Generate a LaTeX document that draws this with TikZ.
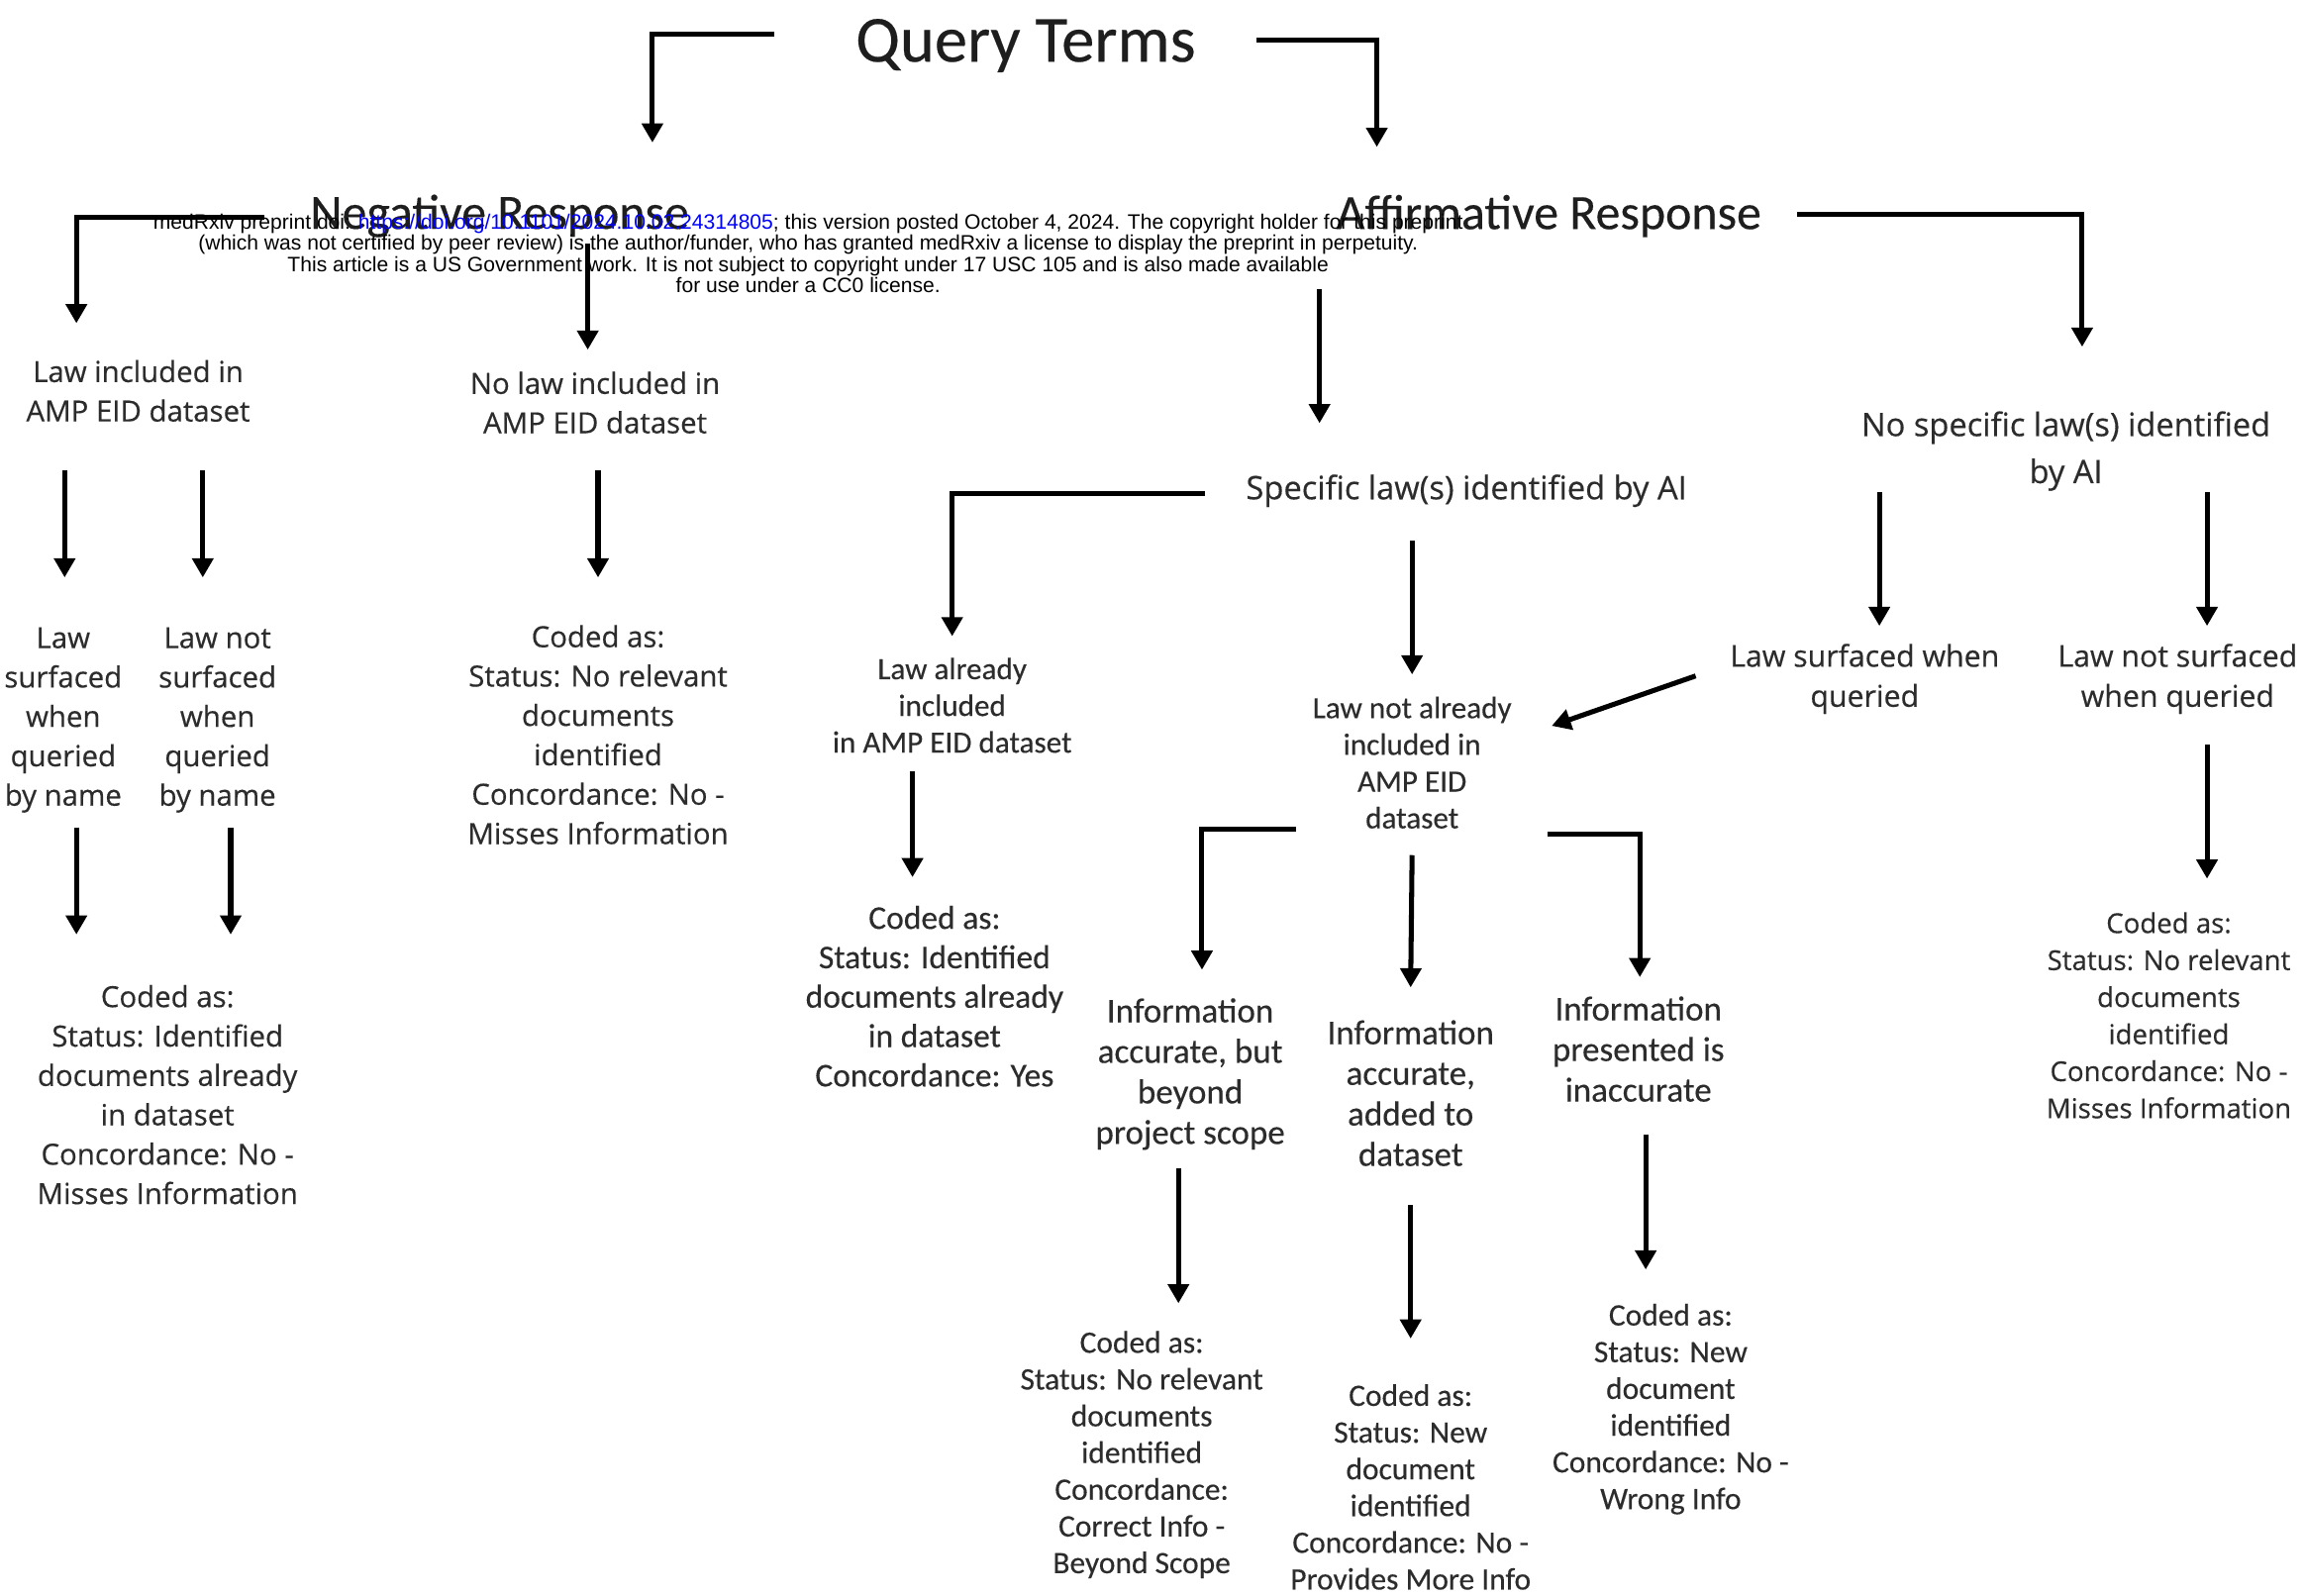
\documentclass[tikz,border=0pt]{standalone}
\usepackage{fontspec}
\setmainfont{Carlito}
\newfontfamily\widefont[FakeBold=0.4]{Open Sans}
\newfontfamily\narrowfont[FakeBold=0.3]{Carlito}
\newfontfamily\hdrfont{Liberation Sans}
\usetikzlibrary{arrows.meta,calc}
\definecolor{txt}{HTML}{2C2C2C}
\definecolor{headtxt}{HTML}{1E1E1E}
\definecolor{lnk}{HTML}{0000FF}
\begin{document}
\begin{tikzpicture}[x=0.5bp,y=-0.5bp,
  every node/.style={inner sep=0pt, align=center, text=txt},
  arr/.style={line width=1.7bp, -{Triangle[width=7bp,length=6.5bp]}},
  big/.style={font=\narrowfont\fontsize{22.4bp}{26bp}\selectfont, text=headtxt},
  head/.style={font=\narrowfont\fontsize{16.8bp}{20bp}\selectfont, text=headtxt},
  wa/.style={font=\widefont\fontsize{9.9bp}{13.4bp}\selectfont},
  wsl/.style={font=\widefont\fontsize{11bp}{16bp}\selectfont},
  wsw/.style={font=\widefont\fontsize{10.2bp}{13.6bp}\selectfont},
  wc/.style={font=\widefont\fontsize{9.3bp}{12.6bp}\selectfont},
  nla/.style={font=\narrowfont\fontsize{10.5bp}{12.5bp}\selectfont},
  nc3/.style={font=\narrowfont\fontsize{11.3bp}{13.4bp}\selectfont},
  ninfo/.style={font=\narrowfont\fontsize{11.8bp}{13.8bp}\selectfont},
  ncode/.style={font=\narrowfont\fontsize{10.6bp}{12.5bp}\selectfont},
  notice/.style={font=\hdrfont\fontsize{7.1bp}{7.17bp}\selectfont, text=black}
]
\useasboundingbox (0,0) rectangle (1568,1086);

% nodes
\node[big]  (QT) at (698,31) {Query Terms};
\node[head] (NR) at (340,147) {Negative Response};
\node[head] (AR) at (1054,147) {Affirmative Response};

\node[wa] (LI) at (94,266) {Law included in\\AMP EID dataset};
\node[wa] (NL) at (405,274) {No law included in\\AMP EID dataset};
\node[wa] (LS) at (43,490) {Law\\surfaced\\when\\queried\\by name};
\node[wa] (LN) at (148,490) {Law not\\surfaced\\when\\queried\\by name};
\node[wa] (C1) at (407,500) {Coded as:\\Status: No relevant\\documents\\identified\\Concordance: No -\\Misses Information};
\node[wa] (C2) at (114,745) {Coded as:\\Status: Identified\\documents already\\in dataset\\Concordance: No -\\Misses Information};

\node[wsl] (SL) at (998,334) {Specific law(s) identified by AI};
\node[wsl] (NS) at (1406,307) {No specific law(s) identified\\by AI};
\node[nla] (LA) at (648,480) {Law already\\included\\in AMP EID dataset};
\node[nla] (NA) at (961,519) {Law not already\\included in\\AMP EID\\dataset};
\node[wsw] (SW) at (1269,462) {Law surfaced when\\queried};
\node[wsw] (SN) at (1482,462) {Law not surfaced\\when queried};

\node[nc3] (C3) at (636,678) {Coded as:\\Status: Identified\\documents already\\in dataset\\Concordance: Yes};
\node[ninfo] (I1) at (810,731) {Information\\accurate, but\\beyond\\project scope};
\node[ninfo] (I2) at (960,744) {Information\\accurate,\\added to\\dataset};
\node[ninfo] (I3) at (1115,714) {Information\\presented is\\inaccurate};
\node[wc] (C4) at (1476,691) {Coded as:\\Status: No relevant\\documents\\identified\\Concordance: No -\\Misses Information};

\node[ncode] (C5) at (777,990) {Coded as:\\Status: No relevant\\documents\\identified\\Concordance:\\Correct Info -\\Beyond Scope};
\node[ncode] (C6) at (960,1012) {Coded as:\\Status: New\\document\\identified\\Concordance: No -\\Provides More Info};
\node[ncode] (C7) at (1137,959) {Coded as:\\Status: New\\document\\identified\\Concordance: No -\\Wrong Info};

% connectors
\draw[arr] ($(QT)+(-171,-8)$) -| ($(NR)+(104,-50)$);
\draw[arr] ($(QT)+(157,-4)$) -| ($(AR)+(-117,-47)$);
\draw[arr] ($(NR)+(-160,1)$) -| ($(LI)+(-42,-46)$);
\draw[arr] ($(NR)+(60,19)$) -- ($(NL)+(-5,-36)$);
\draw[arr] ($(AR)+(169,-1)$) -| ($(NS)+(11,-71)$);
\draw[arr] ($(AR)+(-156,50)$) -- ($(SL)+(-100,-46)$);
\draw[arr] ($(LI)+(-50,54)$) -- ($(LS)+(1,-97)$);
\draw[arr] ($(LI)+(44,54)$) -- ($(LN)+(-10,-97)$);
\draw[arr] ($(NL)+(2,46)$) -- ($(C1)+(0,-107)$);
\draw[arr] ($(LS)+(9,73)$) -- ($(C2)+(-62,-109)$);
\draw[arr] ($(LN)+(9,73)$) -- ($(C2)+(43,-109)$);
\draw[arr] ($(SL)+(-178,2)$) -| ($(LA)+(0,-47)$);
\draw[arr] ($(SL)+(-37,34)$) -- ($(NA)+(0,-60)$);
\draw[arr] ($(NS)+(-127,28)$) -- ($(SW)+(10,-36)$);
\draw[arr] ($(NS)+(96,28)$) -- ($(SN)+(20,-36)$);
\draw[arr] ($(SW)+(-115,-2)$) -- ($(NA)+(95,-25)$);
\draw[arr] ($(LA)+(-27,45)$) -- ($(C3)+(-15,-81)$);
\draw[arr] ($(NA)+(-79,45)$) -| ($(I1)+(8,-71)$);
\draw[arr] ($(NA)+(0,63)$) -- ($(I2)+(0,-72)$);
\draw[arr] ($(NA)+(92,49)$) -| ($(I3)+(1,-49)$);
\draw[arr] ($(SN)+(20,45)$) -- ($(C4)+(26,-93)$);
\draw[arr] ($(I1)+(-8,64)$) -- ($(C5)+(25,-103)$);
\draw[arr] ($(I2)+(0,76)$) -- ($(C6)+(0,-101)$);
\draw[arr] ($(I3)+(5,58)$) -- ($(C7)+(-17,-95)$);

% preprint notice overlay
\node[notice] (NOTE) at (550,172.5) {medRxiv preprint doi: \textcolor{lnk}{https://doi.org/10.1101/2024.10.02.24314805}; this version posted October 4, 2024. The copyright holder for this preprint\\(which was not certified by peer review) is the author/funder, who has granted medRxiv a license to display the preprint in perpetuity.\\This article is a US Government work. It is not subject to copyright under 17 USC 105 and is also made available\\for use under a CC0 license.};
\end{tikzpicture}
\end{document}
